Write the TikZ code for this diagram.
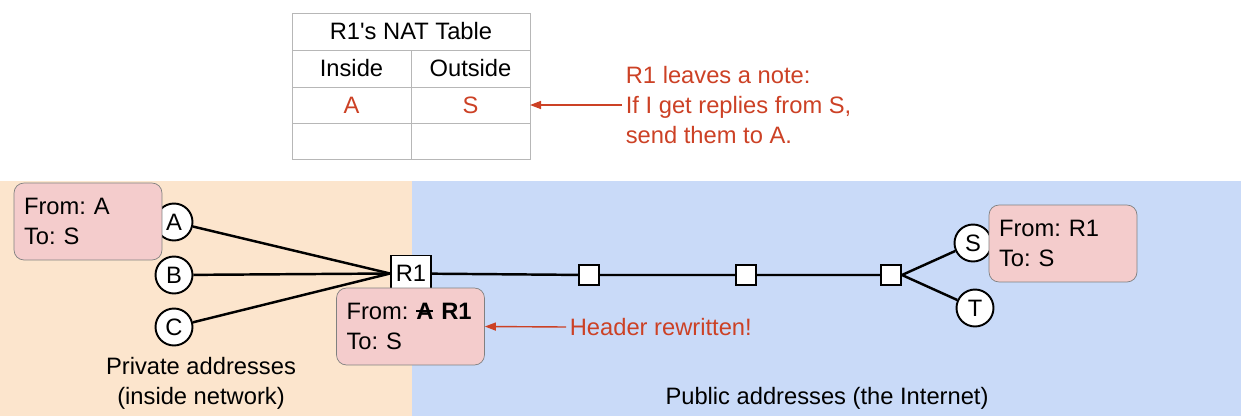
\documentclass[tikz,border=0pt]{standalone}
\usepackage{fontspec}
\setmainfont{Liberation Sans}
\newfontfamily\plainfont{Liberation Sans}
\usetikzlibrary{arrows.meta,positioning}
\definecolor{peach}{HTML}{FCE5CD}
\definecolor{skyblue}{HTML}{C9DAF8}
\definecolor{notepink}{HTML}{F4CCCC}
\definecolor{notered}{HTML}{CC4125}
\definecolor{tablegray}{HTML}{B7B7B7}
\definecolor{noteedge}{HTML}{808080}
\newcommand{\strk}[1]{\setbox0\hbox{#1}\rlap{\rule[0.33em]{\wd0}{0.09em}}#1}
\frenchspacing

\tikzset{
  host/.style={circle, draw, line width=1.1pt, fill=white, minimum size=0.74cm, inner sep=0pt},
  router/.style={draw, line width=1.1pt, fill=white, minimum width=0.8cm, minimum height=0.72cm, inner sep=0pt},
  hop/.style={draw, line width=1.1pt, fill=white, minimum size=0.4cm, inner sep=0pt},
  link/.style={line width=1.4pt},
  header/.style={draw=noteedge, fill=notepink, rounded corners=0.2cm, align=left, text width=2.56cm, inner xsep=0.2cm, minimum height=1.54cm},
  redtext/.style={text=notered, align=left, inner xsep=2pt},
  redarrow/.style={draw=notered, line width=0.8pt, -{Triangle[length=0.22cm,width=0.16cm]}},
}

\begin{document}
\begin{tikzpicture}[x=0.02cm, y=-0.02cm, font=\fontsize{13.5}{17}\selectfont]
\useasboundingbox (0,0) rectangle (1241,416);
% backgrounds
\fill[peach] (0,181) rectangle (412,416);
\fill[skyblue] (412,181) rectangle (1241,416);

% NAT table
\draw[tablegray] (292,13) rectangle (530,159);
\draw[tablegray] (292,50) -- (530,50);
\draw[tablegray] (292,87) -- (530,87);
\draw[tablegray] (292,123) -- (530,123);
\draw[tablegray] (411,50) -- (411,159);
\node (title) at (411,31.5) {R1{\plainfont'}s NAT Table};
\node (inside) at (351.5,68.5) {Inside};
\node (outside) at (470.5,68.5) {Outside};
\node[text=notered] (inA) at (351.5,105) {A};
\node[text=notered] (outS) at (470.5,105) {S};
\coordinate (tabR) at (530,105);
\node[redtext, anchor=west] (note) at (622,105) {R1 leaves a note:\\If I get replies from S,\\send them to A.};
\draw[redarrow] (note.west) -- (tabR);

% network
\node[host] (A) at (174,222) {A};
\node[host] (B) at (174,275) {B};
\node[host] (C) at (174,327) {C};
\node[router] (R1) at (411,273.5) {R1};
\node[hop] (h1) at (589,275) {};
\node[hop] (h2) at (746,275) {};
\node[hop] (h3) at (891,275) {};
\node[host] (S) at (973,243) {S};
\node[host] (T) at (975,308) {T};

\draw[link] (A) -- (R1.west);
\draw[link] (B) -- (R1.west);
\draw[link] (C) -- (R1.west);
\draw[link] (R1) -- (h1) -- (h2) -- (h3);
\draw[link] (h3.east) -- (S);
\draw[link] (h3.east) -- (T);

% packet headers
\node[header] (anote) at (88,221.5) {From: A\\To: S};
\node[header] (rnote) at (410.5,326.5) {From: \textbf{\strk{A} R1}\\To: S};
\node[header] (snote) at (1063,243.5) {From: R1\\To: S};

\node[redtext, anchor=west] (hdr) at (566,327) {Header rewritten!};
\draw[redarrow] (hdr.west) -- (rnote.east);

\node[align=center] (priv) at (201,383.5) {Private addresses\\(inside network)};
\node (pub) at (827,398) {Public addresses (the Internet)};
\end{tikzpicture}
\end{document}
